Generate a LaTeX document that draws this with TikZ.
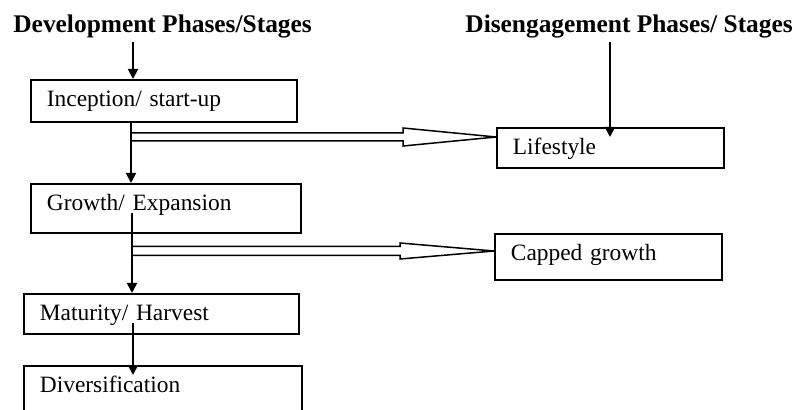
\documentclass[tikz,border=0pt]{standalone}
\usepackage{fontspec}
\setmainfont{Liberation Serif}
\usetikzlibrary{arrows.meta,positioning,calc}
\tikzset{
  phasebox/.style={draw, line width=0.9pt, anchor=north west, align=left, inner xsep=8pt, inner ysep=3pt, text height=10.5pt, font=\fontsize{11.7}{14}\selectfont},
  headtext/.style={anchor=base west, inner sep=0pt, font=\fontsize{12.7}{15}\selectfont\bfseries},
  thinarrow/.style={-{Triangle[length=5pt,width=5pt]}, line width=0.9pt},
  hollowarrow/.style={line width=0.75pt, line join=miter},
}

\begin{document}
\begin{tikzpicture}[x=0.5pt, y=-0.5pt]
  \clip (0,0) rectangle (795,410);
  \useasboundingbox (0,0) rectangle (795,410);

  % headings
  \node[headtext] (devhead) at (13,33) {Development Phases/Stages};
  \node[headtext] (dishead) at (465,33) {Disengagement Phases/ Stages};

  % development column
  \node[phasebox, text width=117pt, text depth=4.5pt] (incep) at (30,79) {Inception/ start-up};
  \node[phasebox, text width=119pt, text depth=8pt] (growth) at (30,183) {Growth/ Expansion};
  \node[phasebox, text width=121.5pt, text depth=3.5pt] (mature) at (23,293) {Maturity/ Harvest};
  \node[phasebox, text width=123pt, text depth=11pt] (divers) at (23,365) {Diversification};

  % disengagement column
  \node[phasebox, text width=97.5pt, text depth=3.5pt] (life) at (496,127) {Lifestyle};
  \node[phasebox, text width=97.5pt, text depth=6.5pt] (capped) at (494,233) {Capped growth};

  % split points and loose arrow ends
  \coordinate (split1) at (131,137);
  \coordinate (split2) at (132,251);
  \coordinate (growthout) at (132,213);
  \coordinate (matureout) at (133,323);
  \coordinate (diversin) at (133,375);
  \coordinate (lifein) at (610,137);

  \draw[thinarrow] ($(devhead.south -| matureout)+(0,3)$) -- (matureout |- incep.north);
  \draw[thinarrow] ($(dishead.south -| lifein)+(0,3)$) -- (lifein);
  \draw[thinarrow] (split1 |- incep.south) -- (split1 |- growth.north);
  \draw[thinarrow] (growthout) -- (growthout |- mature.north);
  \draw[thinarrow] (matureout) -- (diversin);

  % hollow arrows to the side
  \draw[hollowarrow] ($(split1)+(0,-4)$) -- ($(split1 -| life.west)+(-93,-4)$) -- ++(0,-5)
    -- (split1 -| life.west) -- ($(split1 -| life.west)+(-93,9)$) -- ++(0,-5) -- ($(split1)+(0,4)$);
  \draw[hollowarrow] ($(split2)+(0,-4.5)$) -- ($(split2 -| capped.west)+(-94,-4.5)$) -- ++(0,-3.5)
    -- (split2 -| capped.west) -- ($(split2 -| capped.west)+(-94,8)$) -- ++(0,-3.5) -- ($(split2)+(0,4.5)$);
\end{tikzpicture}
\end{document}
